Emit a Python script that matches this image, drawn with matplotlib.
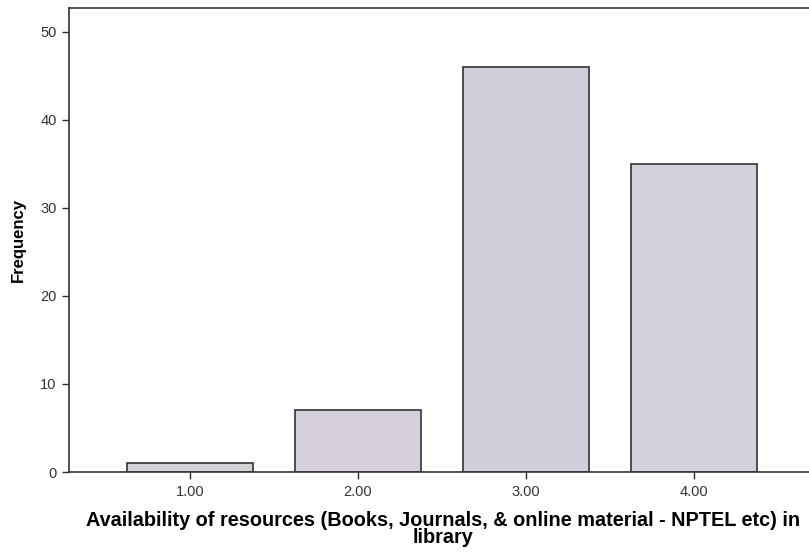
import matplotlib.pyplot as plt
import numpy as np

plt.rcParams['font.family'] = ['Liberation Sans', 'DejaVu Sans']

categories = [1.0, 2.0, 3.0, 4.0]
tick_labels = ['1.00', '2.00', '3.00', '4.00']
frequency = [1, 7, 46, 35]
y_ticks = [0, 10, 20, 30, 40, 50]

fig = plt.figure(figsize=(8.09, 5.52), dpi=100)
ax = fig.add_axes([0.0853, 0.1449, 0.9147, 0.8406])

bar_colors = ['#d6d3d8', '#d5d0dc', '#d3cedb', '#d5d1dc']
ax.bar(categories, frequency, width=0.75, color=bar_colors,
       edgecolor='#333333', linewidth=1.2, zorder=2)

ax.set_xlim(0.28, 4.685)
ax.set_ylim(0, 52.7)
ax.set_xticks(categories)
ax.set_xticklabels(tick_labels, fontsize=10.5, color='#333333')
ax.set_yticks(y_ticks)
ax.set_yticklabels([str(v) for v in y_ticks], fontsize=10.5, color='#333333')
ax.tick_params(axis='both', direction='out', length=5, width=1, color='#333333', pad=4)

for side in ['left', 'top', 'bottom']:
    ax.spines[side].set_color('#333333')
    ax.spines[side].set_linewidth(1.2)
ax.spines['right'].set_visible(False)

ax.set_ylabel('Frequency', fontsize=12, fontweight='bold', labelpad=10)
fig.text(0.548, 0.0743,
         'Availability of resources (Books, Journals, & online material - NPTEL etc) in\nlibrary',
         ha='center', va='top', fontsize=14.3, fontweight='bold', linespacing=0.85)

fig.savefig('out.png', dpi=100)
